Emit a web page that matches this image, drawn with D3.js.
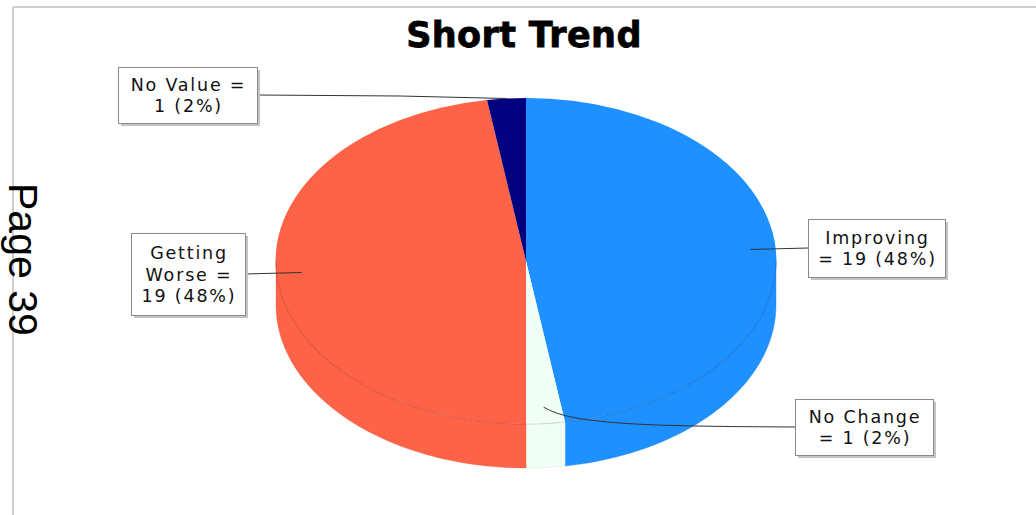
<!DOCTYPE html>
<html><head><meta charset="utf-8">
<script src="https://cdn.jsdelivr.net/npm/d3@7/dist/d3.min.js"></script>
<style>html,body{margin:0;padding:0;background:#fff;}svg{display:block;}</style>
</head><body>
<svg id="c" width="1036" height="515"></svg>
<script>
const categories = ["Improving", "No Change", "Getting Worse", "No Value"];
const values = [19, 1, 19, 1];
const colors = ["#1E90FF", "#F0FFF5", "#FF6347", "#000080"];
const wrapChars = [10, 9, 8, 10];
const titleText = "Short Trend";
const pageText = "Page 39";

// layout (style / positions)
const boxes = [
  {x: 808, y: 219, w: 137, h: 58, side: "left", r: 0.9},
  {x: 795, y: 399, w: 138, h: 56, side: "left", r: 0.9, via: [[640, 426], [565, 418]]},
  {x: 131, y: 233, w: 114, h: 82, side: "right", r: 0.9},
  {x: 118, y: 67, w: 139, h: 56, side: "right", r: 1.0, via: [[400, 96]]}
];

const svg = d3.select("#c");
const W = 1036, H = 515;
const cx = 526, cy = 261, rx = 250, ry = 163, depth = 44;

// frame
svg.append("line").attr("x1", 13).attr("x2", W).attr("y1", 7).attr("y2", 7)
  .attr("stroke", "#cfcfcf").attr("stroke-width", 2);
svg.append("line").attr("x1", 13).attr("x2", 13).attr("y1", 7).attr("y2", H)
  .attr("stroke", "#cfcfcf").attr("stroke-width", 2);

// title
svg.append("text").attr("x", 524).attr("y", 47).attr("text-anchor", "middle")
  .attr("font-family", "DejaVu Sans").attr("font-weight", "bold").attr("font-size", 35)
  .attr("letter-spacing", 0.4).attr("stroke", "#000").attr("stroke-width", 0.8)
  .attr("fill", "#000").text(titleText);

// page text
svg.append("text").attr("transform", "translate(9,183) rotate(90)")
  .attr("font-family", "Liberation Sans").attr("font-size", 41).attr("fill", "#000").text(pageText);

const total = d3.sum(values);
const pie = d3.pie().sort(null).value(d => d)(values);

const px = a => cx + rx * Math.sin(a);
const py = a => cy - ry * Math.cos(a);

// side walls
const gSide = svg.append("g");
pie.forEach((s, i) => {
  const a0 = Math.max(s.startAngle, Math.PI / 2), a1 = Math.min(s.endAngle, 3 * Math.PI / 2);
  if (a1 <= a0) return;
  const n = 60;
  const angs = d3.range(n + 1).map(k => a0 + (a1 - a0) * k / n);
  const pts = angs.map(a => [px(a), py(a)]).concat(angs.slice().reverse().map(a => [px(a), py(a) + depth]));
  gSide.append("path").attr("d", d3.line()(pts) + "Z").attr("fill", colors[i])
    .attr("stroke", d3.color(colors[i]).darker(0.4)).attr("stroke-opacity", 0.35).attr("stroke-width", 1);
});

// top faces
const arc = d3.arc().innerRadius(0).outerRadius(1);
const gTop = svg.append("g").attr("transform", `translate(${cx},${cy}) scale(${rx},${ry})`);
gTop.selectAll("path").data(pie).join("path").attr("d", arc).attr("fill", (d, i) => colors[i]);

// faint top edge over front
const fa = d3.range(61).map(k => Math.PI / 2 + Math.PI * k / 60);
svg.append("path").attr("d", d3.line()(fa.map(a => [px(a), py(a)])))
  .attr("fill", "none").attr("stroke", "#000").attr("stroke-opacity", 0.12).attr("stroke-width", 1.2);

// labels
function wrap(str, max) {
  const words = str.split(" "), lines = [];
  let cur = "";
  words.forEach(w => {
    const t = cur ? cur + " " + w : w;
    if (t.length > max && cur) { lines.push(cur); cur = w; } else cur = t;
  });
  if (cur) lines.push(cur);
  return lines;
}
// round half to even (as the source chart does: 2.5 -> 2, 47.5 -> 48)
function roundEven(x) {
  const f = Math.floor(x), d = x - f;
  if (Math.abs(d - 0.5) < 1e-9) return f % 2 === 0 ? f : f + 1;
  return Math.round(x);
}

const gLab = svg.append("g");
pie.forEach((s, i) => {
  const b = boxes[i];
  const mid = (s.startAngle + s.endAngle) / 2;
  const ax = cx + rx * b.r * Math.sin(mid), ay = cy - ry * b.r * Math.cos(mid);
  const ex = b.side === "left" ? b.x : b.x + b.w;
  const ey = b.y + b.h / 2;
  const pts = [[ex, ey]].concat(b.via || []).concat([[ax, ay]]);
  gLab.append("path").attr("d", d3.line().curve(b.via && b.via.length > 1 ? d3.curveBasis : d3.curveLinear)(pts))
    .attr("fill", "none").attr("stroke", "#333").attr("stroke-width", 1);
  gLab.append("rect").attr("x", b.x + 3).attr("y", b.y + 3).attr("width", b.w).attr("height", b.h)
    .attr("fill", "#c4c4c4");
  gLab.append("rect").attr("x", b.x + 0.5).attr("y", b.y + 0.5).attr("width", b.w).attr("height", b.h)
    .attr("fill", "#fff").attr("stroke", "#8a8a8a").attr("stroke-width", 1);
  const pct = roundEven(values[i] / total * 100);
  const lines = wrap(`${categories[i]} = ${values[i]} (${pct}%)`, wrapChars[i]);
  const lh = 21.5;
  const y0 = b.y + b.h / 2 - (lines.length - 1) * lh / 2 + 6.5;
  const t = gLab.append("text").attr("font-family", "DejaVu Sans").attr("font-size", 17.5)
    .attr("letter-spacing", 1.8).attr("fill", "#111").attr("text-anchor", "middle");
  lines.forEach((l, k) => t.append("tspan").attr("x", b.x + b.w / 2 + 1).attr("y", y0 + k * lh).text(l));
});
</script>
</body></html>
